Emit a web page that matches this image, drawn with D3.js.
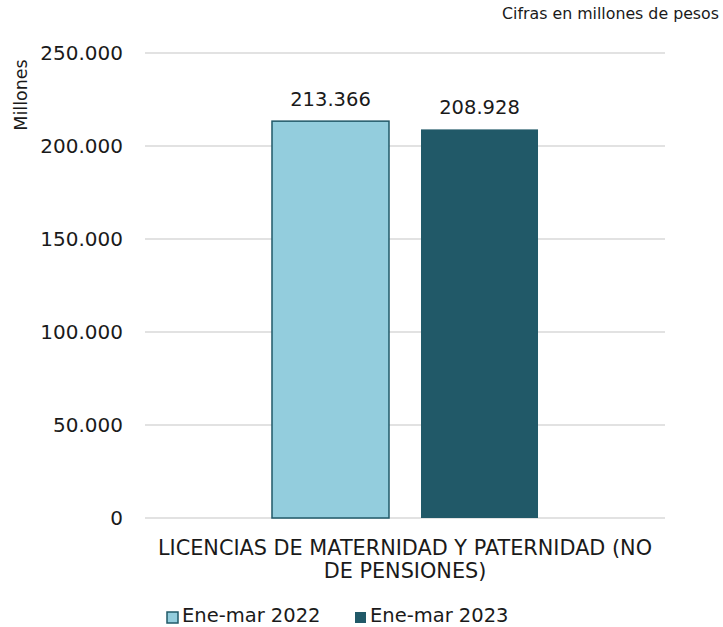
<!DOCTYPE html>
<html><head><meta charset="utf-8">
<script src="https://cdn.jsdelivr.net/npm/d3@7"></script>
<style>body{margin:0;background:#fff}svg{display:block;font-family:"DejaVu Sans",Verdana,sans-serif}</style>
</head><body><svg id="c" width="723" height="627"></svg>
<script>
const categories = ["LICENCIAS DE MATERNIDAD Y PATERNIDAD (NO DE PENSIONES)"];
const categoryLines = [["LICENCIAS DE MATERNIDAD Y PATERNIDAD (NO", "DE PENSIONES)"]];
const seriesNames = ["Ene-mar 2022", "Ene-mar 2023"];
const values2022 = [213366];
const values2023 = [208928];
const yTicks = [0, 50000, 100000, 150000, 200000, 250000];
const colors = ["#93CDDD", "#215968"];

const svg = d3.select("#c");
const m = {l:145, r:665, t:53, b:518};
const fmt = v => d3.format(",")(v).replace(/,/g, ".");

const y = d3.scaleLinear().domain([0, 250000]).range([m.b, m.t]);
const x0 = d3.scaleBand().domain(categories).range([m.l, m.r]).paddingInner(0).paddingOuter(0.4774);
const x1 = d3.scaleBand().domain(seriesNames).range([0, x0.bandwidth()]).paddingInner(0.2148).paddingOuter(0);

// gridlines
svg.append("g").selectAll("line").data(yTicks).join("line")
  .attr("x1", m.l).attr("x2", m.r).attr("y1", d => y(d)).attr("y2", d => y(d))
  .attr("stroke", "#d9d9d9").attr("stroke-width", 1.5);

// y axis labels
const yAxis = d3.axisLeft(y).tickValues(yTicks).tickFormat(fmt).tickSize(0).tickPadding(0);
const ga = svg.append("g").attr("transform", `translate(123,0)`).call(yAxis);
ga.select(".domain").remove();
ga.selectAll("text").attr("font-size", 20).attr("fill", "#1a1a1a").attr("font-family", "DejaVu Sans, Verdana, sans-serif");

// y title
svg.append("text").attr("transform", "translate(27,95) rotate(-90)").attr("text-anchor", "middle")
  .attr("font-size", 17.5).attr("fill", "#1a1a1a").text("Millones");

// subtitle
svg.append("text").attr("x", 719).attr("y", 19).attr("text-anchor", "end")
  .attr("font-size", 15.8).attr("fill", "#1a1a1a").text("Cifras en millones de pesos");

// bars
const rows = categories.map((c, i) => ({c, vals: [values2022[i], values2023[i]]}));
const g = svg.append("g");
rows.forEach(r => {
  r.vals.forEach((v, j) => {
    const bx = x0(r.c) + x1(seriesNames[j]);
    g.append("rect").attr("x", bx).attr("y", y(v)).attr("width", x1.bandwidth()).attr("height", y(0) - y(v))
      .attr("fill", colors[j]).attr("stroke", j === 0 ? "#215968" : "none").attr("stroke-width", 1.5);
    g.append("text").attr("x", bx + x1.bandwidth()/2).attr("y", y(v) - 15).attr("text-anchor", "middle")
      .attr("font-size", 19.5).attr("fill", "#1a1a1a").text(fmt(v));
  });
  const cx = x0(r.c) + x0.bandwidth()/2;
  const lines = categoryLines[categories.indexOf(r.c)];
  lines.forEach((ln, k) => {
    svg.append("text").attr("x", cx).attr("y", 555 + k*23).attr("text-anchor", "middle")
      .attr("font-size", 20.8).attr("fill", "#1a1a1a").text(ln);
  });
});

// legend
const legX = [167, 355];
seriesNames.forEach((s, j) => {
  svg.append("rect").attr("x", legX[j]).attr("y", 612).attr("width", 11).attr("height", 11)
    .attr("fill", colors[j]).attr("stroke", j === 0 ? "#215968" : "none").attr("stroke-width", 1.5);
  svg.append("text").attr("x", legX[j] + 15).attr("y", 622).attr("font-size", 19.5).attr("fill", "#1a1a1a").text(s);
});
</script></body></html>
